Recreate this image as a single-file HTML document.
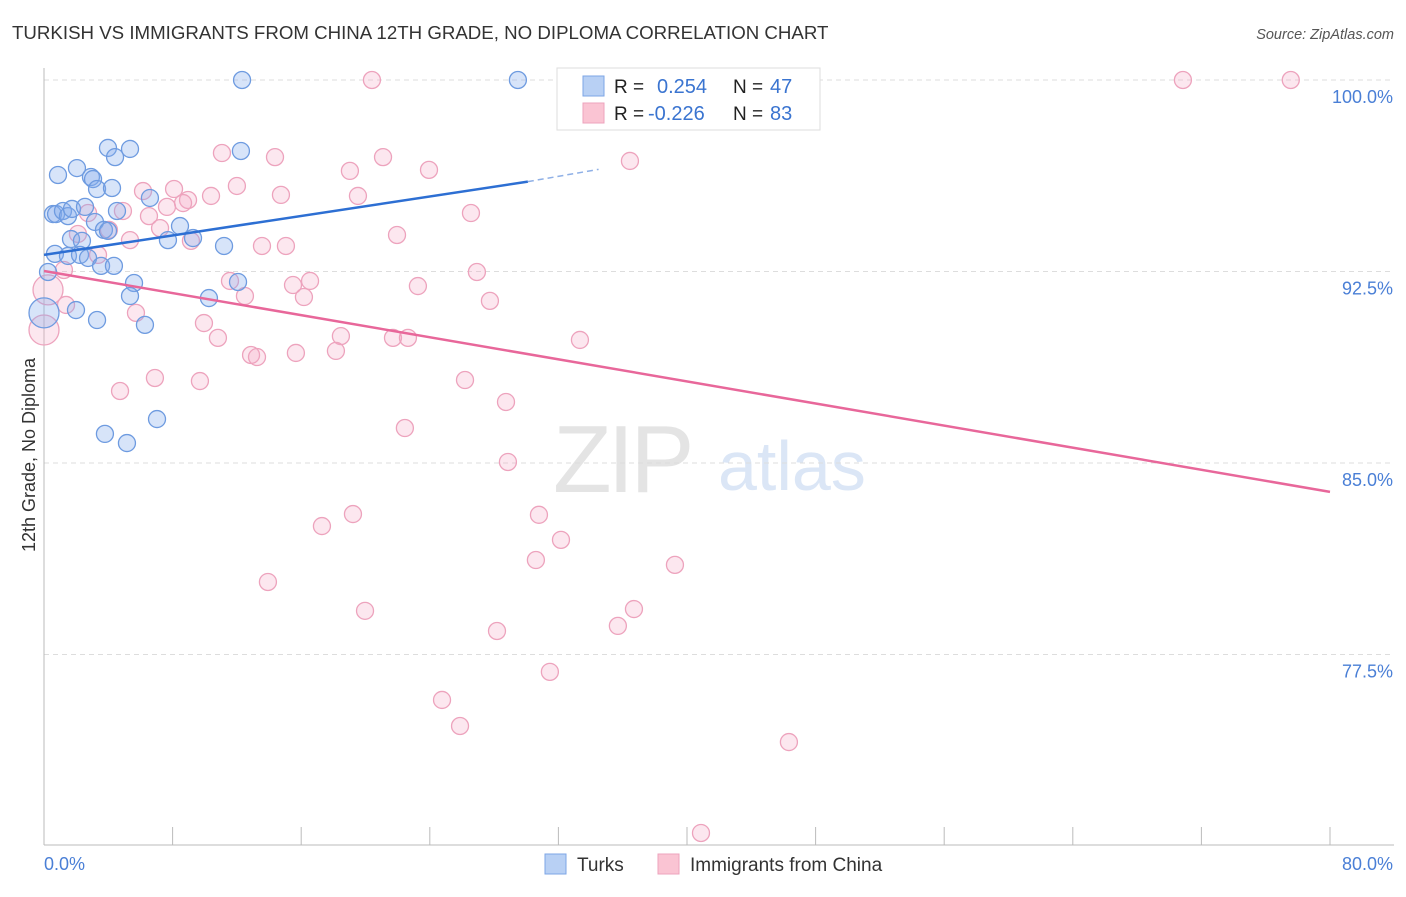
<!DOCTYPE html>
<html><head><meta charset="utf-8"><style>
body{margin:0;background:#fff;font-family:"Liberation Sans",sans-serif}
svg text{font-family:"Liberation Sans",sans-serif}
</style></head><body>
<svg width="1406" height="892" viewBox="0 0 1406 892" xmlns="http://www.w3.org/2000/svg">
<text x="12" y="39" font-size="18.7" fill="#333">TURKISH VS IMMIGRANTS FROM CHINA 12TH GRADE, NO DIPLOMA CORRELATION CHART</text>
<text x="1394" y="39" font-size="14.5" fill="#555" text-anchor="end" font-style="italic">Source: ZipAtlas.com</text>
<g>
<text x="553" y="492" font-size="96" fill="#e4e4e4" font-family="Liberation Serif,serif" letter-spacing="-4">ZIP</text>
<text x="718" y="490" font-size="70" fill="#dbe6f6">atlas</text>
</g>
<g id="grid"></g>
<g id="axes"></g>
<g id="pts"></g>
<g id="lines"></g>
<text x="35" y="455" font-size="18" fill="#333" text-anchor="middle" transform="rotate(-90 35 455)">12th Grade, No Diploma</text>
<text x="44" y="870" font-size="18" fill="#4a7fd6">0.0%</text>
<text x="1393" y="870" font-size="18" fill="#4a7fd6" text-anchor="end">80.0%</text>
<g>
<rect x="557" y="68" width="263" height="62" fill="#fff" stroke="#ddd"/>
<rect x="583" y="76" width="21" height="20" fill="#b8d0f4" stroke="#7da6e6"/>
<rect x="583" y="103" width="21" height="20" fill="#fac4d3" stroke="#eda3bd"/>
<text x="614" y="93" font-size="19" fill="#222">R =</text>
<text x="657" y="93" font-size="20" fill="#3a74d0">0.254</text>
<text x="733" y="93" font-size="19" fill="#222">N =</text>
<text x="770" y="93" font-size="20" fill="#3a74d0">47</text>
<text x="614" y="120" font-size="19" fill="#222">R =</text>
<text x="648" y="120" font-size="20" fill="#3a74d0">-0.226</text>
<text x="733" y="120" font-size="19" fill="#222">N =</text>
<text x="770" y="120" font-size="20" fill="#3a74d0">83</text>
</g>
<g>
<rect x="545" y="854" width="21" height="20" fill="#b8d0f4" stroke="#7da6e6"/>
<text x="577" y="871" font-size="19" fill="#333">Turks</text>
<rect x="658" y="854" width="21" height="20" fill="#fac4d3" stroke="#eda3bd"/>
<text x="690" y="871" font-size="19" fill="#333">Immigrants from China</text>
</g>
</svg>
<script>
const yTicks=[100,92.5,85,77.5];
const yTickLabels=["100.0%","92.5%","85.0%","77.5%"];
const xTicks=[0,8,16,24,32,40,48,56,64,72,80];
const blueX=[12.32,29.48,3.98,5.35,4.42,12.25,0.87,2.05,2.92,3.05,3.30,4.23,6.59,0.56,0.75,1.18,1.49,1.74,2.55,3.17,4.54,8.46,1.68,2.36,3.73,3.98,7.71,9.27,11.20,0.68,1.49,2.24,2.74,3.55,4.35,0.25,5.60,12.07,5.35,10.26,1.99,3.30,6.28,0,7.03,3.79,5.16];
const blueY=[100,100,97.34,97.30,96.98,97.22,96.28,96.55,96.20,96.12,95.73,95.77,95.38,94.75,94.75,94.87,94.67,94.95,95.03,94.44,94.87,94.28,93.77,93.70,94.13,94.09,93.73,93.81,93.50,93.19,93.11,93.15,93.03,92.72,92.72,92.48,92.05,92.09,91.54,91.46,90.99,90.60,90.41,90.88,86.72,86.14,85.78];
const blueBig=[43];
const pinkX=[20.40,32.97,70.85,77.56,11.07,14.37,21.09,36.45,19.03,12.00,23.95,6.16,8.09,10.39,14.74,19.53,8.96,7.65,4.91,6.53,8.65,26.56,2.74,7.22,4.04,21.96,2.11,5.35,9.14,13.56,15.05,3.36,1.24,26.93,11.57,15.49,16.55,12.50,16.17,23.26,27.74,1.37,5.72,9.95,10.82,18.47,21.71,22.64,33.34,12.88,13.25,15.67,18.16,6.90,9.70,26.19,4.73,28.74,22.45,28.86,17.29,19.22,30.79,32.16,30.60,39.25,13.93,19.97,36.70,35.70,28.18,31.47,24.76,25.88,46.34,40.87,0.25,0];
const pinkY=[100,100,100,100,97.14,96.98,96.98,96.83,96.44,95.85,96.48,95.65,95.73,95.46,95.50,95.46,95.30,95.03,94.87,94.67,95.18,94.79,94.79,94.20,94.13,93.93,93.97,93.73,93.70,93.50,93.50,93.15,92.56,92.48,92.13,91.97,92.13,91.54,91.50,91.93,91.35,91.19,90.88,90.48,89.90,89.97,89.90,89.90,89.82,89.23,89.15,89.31,89.39,88.33,88.21,88.25,87.82,87.39,86.37,85.04,82.53,83.00,82.97,81.99,81.20,81.01,80.34,79.21,79.28,78.62,78.42,76.82,75.72,74.70,74.07,70.51,91.78,90.21];
const pinkBig=[76,77];
const blueTrend=[[0,93.15],[30.1,96.02],[34.5,96.5]];
const pinkTrend=[[0,92.52],[80,83.87]];
const NS="http://www.w3.org/2000/svg";
const X=v=>44+v/80*1286;
const Y=v=>80+(100-v)/7.5*191.5;
function mk(tag,a,parent){const e=document.createElementNS(NS,tag);for(const k in a)e.setAttribute(k,a[k]);document.getElementById(parent).appendChild(e);return e;}
yTicks.forEach((t,i)=>{
 const l=mk('line',{x1:44,x2:1394,y1:Y(t),y2:Y(t),stroke:'#ddd','stroke-dasharray':'5,4'},'grid');
 
 
 const tx=mk('text',{x:1393,y:Y(t)+23,'font-size':18,fill:'#4a7fd6','text-anchor':'end'},'grid');
 tx.textContent=yTickLabels[i];
 
 
});
const ax=mk('line',{x1:44,x2:44,y1:68,y2:845,stroke:'#bbb'},'axes');


const bx=mk('line',{x1:44,x2:1394,y1:845,y2:845,stroke:'#bbb'},'axes');


xTicks.forEach(t=>{
 const l=mk('line',{x1:X(t),x2:X(t),y1:827,y2:845,stroke:'#bbb'},'axes');
 
 
});
pinkX.forEach((v,i)=>{
 const c=mk('circle',{cx:X(v),cy:Y(pinkY[i]),r:pinkBig.includes(i)?15:8.5,fill:'rgba(246,170,196,0.28)',stroke:'#eda3bd','stroke-width':1.3},'pts');
 
 
});
blueX.forEach((v,i)=>{
 const c=mk('circle',{cx:X(v),cy:Y(blueY[i]),r:blueBig.includes(i)?15:8.5,fill:'rgba(130,170,235,0.32)',stroke:'#6e9be0','stroke-width':1.3},'pts');
 
 
});
const b1=mk('line',{x1:X(blueTrend[0][0]),y1:Y(blueTrend[0][1]),x2:X(blueTrend[1][0]),y2:Y(blueTrend[1][1]),stroke:'#2d6fd3','stroke-width':2.5},'lines');


const b2=mk('line',{x1:X(blueTrend[1][0]),y1:Y(blueTrend[1][1]),x2:X(blueTrend[2][0]),y2:Y(blueTrend[2][1]),stroke:'#8fb0e6','stroke-width':1.5,'stroke-dasharray':'6,4'},'lines');


const p1=mk('line',{x1:X(pinkTrend[0][0]),y1:Y(pinkTrend[0][1]),x2:X(pinkTrend[1][0]),y2:Y(pinkTrend[1][1]),stroke:'#e8679a','stroke-width':2.5},'lines');


</script>
</body></html>
